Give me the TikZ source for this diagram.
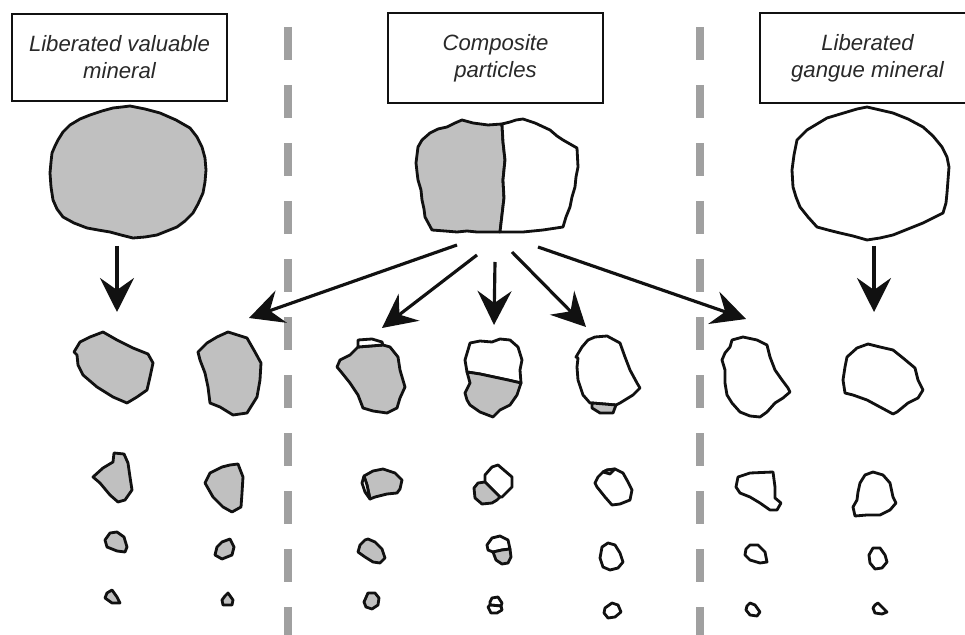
\documentclass[tikz,border=0pt]{standalone}
\usepackage{fontspec}
\usepackage{xcolor}
\usetikzlibrary{arrows.meta}
\newfontfamily\tagfont{Liberation Sans}
\definecolor{Ink}{HTML}{111111}
\definecolor{Ore}{HTML}{C0C0C0}
\definecolor{Split}{HTML}{A0A0A0}

\begin{document}
\begin{tikzpicture}[
    x=0.2mm, y=-0.2mm,
    tag/.style={draw=Ink, line width=1.4pt, fill=white, minimum width=4.3cm, minimum height=1.8cm, align=center, text=Ink!90, font={\tagfont\fontsize{12.6pt}{15.3pt}\selectfont\itshape}},
    grain/.style={draw=Ink, line width=1.6pt, line join=round, fill=white},
    ore/.style={grain, fill=Ore},
    arrow/.style={-{Stealth[length=6.8mm, width=6.8mm, inset=2.4mm]}, line width=1.8pt, draw=Ink},
    divider/.style={draw=Split, line width=4.5pt, dash pattern=on 0.66cm off 0.5cm}
  ]
    \useasboundingbox (0,0) rectangle (965,635);

    % column separators
    \draw[divider] (288,27) -- (288,660);
    \draw[divider] (700,27) -- (700,660);

    \node[tag, minimum height=1.74cm] (valbox) at (119.5,57.5) {Liberated valuable\\mineral};
    \node[tag] (compbox) at (495.5,58) {Composite\\particles};
    \node[tag] (gangbox) at (867.5,58) {Liberated\\gangue mineral};

    % feed particles
    \draw[ore] (130,106) -- (145,109) -- (160,113) -- (176,120) -- (190,128) -- (197,137) -- (202,147) -- (205,158) -- (206,170) -- (205,182) -- (203,193) -- (198,204) -- (193,213) -- (185,221) -- (177,227) -- (167,231) -- (157,235) -- (145,237) -- (133,238) -- (121,235) -- (110,232) -- (98,230) -- (87,228) -- (74,223) -- (63,217) -- (57,209) -- (53,200) -- (51,187) -- (50,173) -- (51,162) -- (52,153) -- (55,146) -- (58,140) -- (63,132) -- (70,125) -- (80,119) -- (90,115) -- (102,111) -- (113,108) -- (122,107) -- cycle;

    \draw[ore] (502,124) -- (488,125) -- (473,123) -- (462,120) -- (455,123) -- (447,127) -- (438,129) -- (430,133) -- (422,140) -- (418,147) -- (416,163) -- (417,172) -- (418,180) -- (421,190) -- (422,200) -- (424,209) -- (425,217) -- (432,230) -- (445,231) -- (457,232) -- (467,231) -- (477,232) -- (500,232) -- (502,215) -- (504,198) -- (503,180) -- (505,160) -- (503,142) -- cycle;
    \draw[grain] (502,124) -- (510,122) -- (516,120) -- (523,119) -- (535,123) -- (550,130) -- (557,136) -- (563,140) -- (577,148) -- (578,167) -- (576,177) -- (575,187) -- (572,197) -- (570,207) -- (566,217) -- (563,227) -- (543,230) -- (523,232) -- (500,232) -- (502,215) -- (504,198) -- (503,180) -- (505,160) -- (503,142) -- cycle;

    \draw[grain] (867,107) -- (880,110) -- (893,113) -- (908,119) -- (923,127) -- (933,136) -- (942,147) -- (947,157) -- (949,167) -- (948,180) -- (947,193) -- (946,203) -- (943,213) -- (933,218) -- (923,223) -- (908,229) -- (893,235) -- (880,238) -- (867,240) -- (853,236) -- (840,233) -- (828,230) -- (817,227) -- (808,217) -- (800,207) -- (796,197) -- (793,187) -- (792,170) -- (794,155) -- (797,140) -- (807,130) -- (817,124) -- (827,118) -- (837,115) -- (847,112) -- (857,109) -- cycle;

    % arrows
    \coordinate (val-out) at (117,246);
    \coordinate (val-in) at (117,312);
    \coordinate (gang-out) at (874,246);
    \coordinate (gang-in) at (874,312);
    \coordinate (comp-a) at (457,245);
    \coordinate (comp-b) at (477,255);
    \coordinate (comp-c) at (495,262);
    \coordinate (comp-d) at (512,252);
    \coordinate (comp-e) at (538,247);
    \coordinate (frag-a) at (249,318);
    \coordinate (frag-b) at (382,328);
    \coordinate (frag-c) at (494,325);
    \coordinate (frag-d) at (586,327);
    \coordinate (frag-e) at (746,319);

    \draw[arrow] (val-out) -- (val-in);
    \draw[arrow] (gang-out) -- (gang-in);
    \draw[arrow] (comp-a) -- (frag-a);
    \draw[arrow] (comp-b) -- (frag-b);
    \draw[arrow] (comp-c) -- (frag-c);
    \draw[arrow] (comp-d) -- (frag-d);
    \draw[arrow] (comp-e) -- (frag-e);

    % broken valuable mineral
    \draw[ore] (103,332) -- (117,340) -- (133,348) -- (148,354) -- (153,363) -- (150,377) -- (147,390) -- (137,397) -- (127,403) -- (113,397) -- (97,387) -- (83,375) -- (78,365) -- (77,355) -- (74,352) -- (80,342) -- (90,337) -- cycle;
    \draw[ore] (228,332) -- (247,338) -- (255,352) -- (261,363) -- (260,380) -- (257,397) -- (247,413) -- (233,415) -- (220,407) -- (210,403) -- (208,387) -- (205,373) -- (200,360) -- (198,352) -- (207,343) -- (217,337) -- cycle;
    \draw[ore] (114,453) -- (124,454) -- (128,463) -- (130,477) -- (132,490) -- (125,500) -- (118,502) -- (110,495) -- (100,483) -- (93,477) -- (103,468) -- (113,462) -- cycle;
    \draw[ore] (238,464) -- (243,477) -- (242,493) -- (241,507) -- (232,512) -- (223,507) -- (213,497) -- (205,483) -- (210,473) -- (222,467) -- (230,465) -- cycle;
    \draw[ore] (117,532) -- (124,537) -- (127,547) -- (125,552) -- (117,551) -- (107,547) -- (105,540) -- (110,533) -- cycle;
    \draw[ore] (230,539) -- (234,547) -- (232,555) -- (222,559) -- (215,555) -- (217,547) -- (222,542) -- cycle;
    \draw[ore] (112,590) -- (117,597) -- (120,603) -- (112,603) -- (105,598) -- (107,593) -- cycle;
    \draw[ore] (228,593) -- (233,600) -- (232,605) -- (223,605) -- (222,600) -- (225,596) -- cycle;

    % broken composite particles
    \draw[ore] (358,347) -- (383,345) -- (390,347) -- (398,357) -- (400,370) -- (405,387) -- (400,398) -- (397,408) -- (387,413) -- (373,411) -- (363,408) -- (358,395) -- (350,383) -- (342,373) -- (337,367) -- (340,360) -- (350,355) -- (355,350) -- cycle;
    \draw[grain] (358,347) -- (358,340) -- (372,339) -- (382,342) -- (383,345) -- cycle;

    \draw[grain] (467,372) -- (465,360) -- (468,350) -- (470,343) -- (480,341) -- (492,342) -- (500,339) -- (510,340) -- (518,347) -- (522,360) -- (520,370) -- (521,383) -- (508,380) -- (494,377) -- (480,374) -- cycle;
    \draw[ore] (521,383) -- (517,395) -- (510,405) -- (500,410) -- (493,417) -- (480,412) -- (470,405) -- (467,400) -- (465,393) -- (470,383) -- (467,372) -- (480,374) -- (494,377) -- (508,380) -- cycle;

    \draw[grain] (595,337) -- (607,336) -- (620,343) -- (625,357) -- (630,370) -- (637,383) -- (640,388) -- (633,395) -- (620,403) -- (616,405) -- (604,404) -- (592,403) -- (590,403) -- (583,395) -- (578,380) -- (577,367) -- (578,358) -- (576,357) -- (582,347) -- (588,340) -- cycle;
    \draw[ore] (592,403) -- (604,404) -- (616,405) -- (613,413) -- (600,413) -- (592,408) -- cycle;

    \draw[ore] (364,476) -- (373,471) -- (383,469) -- (395,473) -- (402,480) -- (400,489) -- (397,493) -- (387,494) -- (375,497) -- (370,499) -- (367,485) -- cycle;
    \draw[grain] (364,476) -- (367,485) -- (370,499) -- (365,492) -- (362,483) -- cycle;

    \draw[grain] (485,482) -- (485,475) -- (492,467) -- (498,465) -- (505,471) -- (512,477) -- (512,487) -- (507,492) -- (502,497) -- (500,497) -- (492,489) -- cycle;
    \draw[ore] (485,482) -- (492,489) -- (500,497) -- (497,500) -- (492,503) -- (482,504) -- (475,498) -- (474,488) -- (478,483) -- cycle;

    \draw[grain] (607,470) -- (615,469) -- (623,473) -- (628,482) -- (632,490) -- (630,500) -- (620,504) -- (612,505) -- (605,497) -- (597,487) -- (595,483) -- (598,477) -- (603,472) -- cycle;
    \draw[ore] (603,472) -- (607,470) -- (615,469) -- (610,474) -- cycle;

    \draw[ore] (368,539) -- (375,542) -- (382,549) -- (385,558) -- (380,563) -- (373,562) -- (365,557) -- (358,552) -- (360,545) -- (365,540) -- cycle;

    \draw[grain] (492,538) -- (500,536) -- (508,540) -- (510,549) -- (502,550) -- (493,552) -- (488,550) -- (487,545) -- cycle;
    \draw[ore] (493,552) -- (502,550) -- (510,549) -- (511,557) -- (508,563) -- (502,564) -- (496,560) -- cycle;

    \draw[grain] (602,547) -- (608,543) -- (615,545) -- (620,553) -- (623,562) -- (618,568) -- (610,570) -- (603,567) -- (600,558) -- cycle;

    \draw[ore] (368,593) -- (375,593) -- (379,598) -- (378,605) -- (372,609) -- (366,607) -- (364,602) -- cycle;

    \draw[grain] (492,598) -- (498,597) -- (502,603) -- (501,606) -- (490,605) -- (490,602) -- cycle;
    \draw[grain] (490,605) -- (501,606) -- (502,610) -- (497,613) -- (491,613) -- (488,607) -- cycle;

    \draw[grain] (605,608) -- (612,603) -- (618,605) -- (621,612) -- (615,617) -- (608,618) -- (604,613) -- cycle;

    % broken gangue mineral
    \draw[grain] (732,340) -- (743,337) -- (757,340) -- (767,345) -- (770,357) -- (775,370) -- (782,380) -- (788,388) -- (790,392) -- (783,398) -- (775,403) -- (767,412) -- (760,417) -- (750,416) -- (740,412) -- (732,403) -- (727,395) -- (725,383) -- (725,370) -- (722,360) -- (725,353) -- (730,347) -- cycle;
    \draw[grain] (857,348) -- (868,344) -- (880,347) -- (893,350) -- (903,358) -- (915,368) -- (918,380) -- (923,390) -- (918,398) -- (908,403) -- (897,412) -- (893,414) -- (880,407) -- (867,400) -- (853,395) -- (845,393) -- (843,380) -- (845,367) -- (847,357) -- cycle;
    \draw[grain] (738,477) -- (750,473) -- (773,472) -- (775,487) -- (775,498) -- (781,503) -- (777,510) -- (770,510) -- (760,503) -- (750,497) -- (740,493) -- (736,487) -- cycle;
    \draw[grain] (873,472) -- (883,475) -- (890,483) -- (893,497) -- (896,503) -- (890,510) -- (880,515) -- (867,515) -- (855,516) -- (853,507) -- (857,500) -- (858,492) -- (860,483) -- (865,475) -- cycle;
    \draw[grain] (750,545) -- (758,545) -- (765,552) -- (767,562) -- (760,563) -- (750,560) -- (745,555) -- (746,549) -- cycle;
    \draw[grain] (873,548) -- (880,548) -- (885,555) -- (887,562) -- (882,568) -- (875,569) -- (870,563) -- (869,555) -- cycle;
    \draw[grain] (750,603) -- (755,605) -- (760,612) -- (757,616) -- (750,615) -- (746,610) -- (747,606) -- cycle;
    \draw[grain] (878,603) -- (883,608) -- (887,612) -- (882,614) -- (875,613) -- (873,608) -- (875,605) -- cycle;
  \end{tikzpicture}
\end{document}
